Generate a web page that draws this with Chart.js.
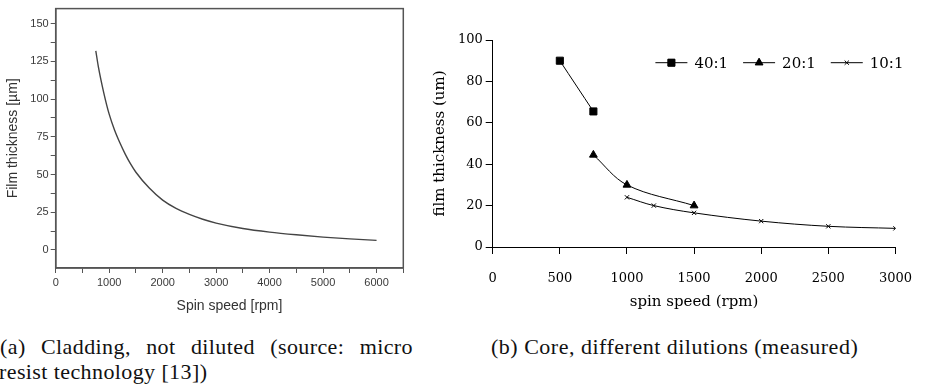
<!DOCTYPE html>
<html>
<head>
<meta charset="utf-8">
<script src="https://cdn.jsdelivr.net/npm/chart.js@4.4.1/dist/chart.umd.min.js"></script>
<style>
  body { margin: 0; background: #fff; width: 929px; height: 387px; overflow: hidden; position: relative; }
  .box { position: absolute; }
  .cap { position: absolute; font-family: "Liberation Serif", serif; font-size: 22px; letter-spacing: 0.4px; color: #111; white-space: nowrap; }
</style>
</head>
<body>
<div class="box" style="left:0;top:0;width:420px;height:320px"><canvas id="cladding"></canvas></div>
<div class="box" style="left:420px;top:20px;width:509px;height:295px"><canvas id="core"></canvas></div>
<div class="cap" style="left:0;top:334px;width:413px;white-space:normal;text-align:justify;text-align-last:justify">(a) Cladding, not diluted (source: micro</div>
<div class="cap" style="left:-1px;top:359px">resist technology [13])</div>
<div class="cap" style="left:491px;top:334px;letter-spacing:0.5px">(b) Core, different dilutions (measured)</div>
<script>
// (a) cladding
const cladSpeed = [750, 800, 900, 1000, 1100, 1200, 1300, 1400, 1500, 1750, 2000, 2250, 2500, 2750, 3000, 3500, 4000, 4500, 5000, 5500, 6000];
const cladThickness = [132, 121, 104, 90, 79.5, 71, 63.5, 57, 51.5, 41, 33, 27.5, 23.5, 20.3, 17.8, 14.2, 11.8, 10, 8.5, 7.3, 6.3];

// (b) core, measured points per dilution
const dilutions = ["40:1", "20:1", "10:1"];
const speed40 = [500, 750];
const thick40 = [90, 65.5];
const speed20 = [750, 1000, 1500];
const thick20 = [44.5, 30, 20];
const speed10 = [1000, 1200, 1500, 2000, 2500, 3000];
const thick10 = [24, 20, 16.5, 12.5, 10, 9];

function pts(xs, ys) {
  return xs.map((x, i) => ({ x: x, y: ys[i] }));
}

// frame around plot (left chart has a full box)
const frame = {
  id: "frame",
  afterDraw(chart) {
    const a = chart.chartArea;
    const ctx = chart.ctx;
    ctx.save();
    ctx.strokeStyle = "#555";
    ctx.lineWidth = 1.5;
    ctx.strokeRect(a.left, a.top, a.right - a.left, a.bottom - a.top);
    ctx.restore();
  },
};

const sans = { family: "'Liberation Sans', Arial, sans-serif", size: 11 };
new Chart(document.getElementById("cladding"), {
  type: "line",
  data: {
    datasets: [{
      data: pts(cladSpeed, cladThickness),
      borderColor: "#444",
      borderWidth: 1.4,
      pointRadius: 0,
      cubicInterpolationMode: "monotone",
    }],
  },
  options: {
    responsive: true,
    maintainAspectRatio: false,
    animation: false,
    layout: { padding: { top: 4, right: 16.7, left: 0, bottom: 0 } },
    plugins: { legend: { display: false }, tooltip: { enabled: false } },
    scales: {
      x: {
        type: "linear",
        min: 0,
        max: 6500,
        afterFit: (s) => { s.height = 52; },
        border: { color: "#555", width: 1.5 },
        grid: { drawOnChartArea: false, tickLength: 5, color: "#555" },
        ticks: {
          stepSize: 500,
          includeBounds: false,
          maxRotation: 0,
          autoSkip: false,
          padding: 3,
          color: "#3a3a3a",
          font: sans,
          callback: (v) => (v % 1000 === 0 && v <= 6000 ? String(v) : ""),
        },
        title: {
          display: true,
          text: "Spin speed [rpm]",
          color: "#333",
          font: { family: sans.family, size: 14 },
          padding: { top: 0, bottom: 5 },
        },
      },
      y: {
        min: -12,
        max: 160,
        afterFit: (s) => { s.width = 55.7; },
        border: { color: "#555", width: 1.5 },
        grid: { drawOnChartArea: false, tickLength: 5, color: "#555" },
        ticks: {
          stepSize: 12.5,
          includeBounds: false,
          autoSkip: false,
          padding: 2,
          color: "#3a3a3a",
          font: sans,
          callback: (v) => (v % 25 === 0 && v >= 0 && v <= 150 ? String(v) : ""),
        },
        title: {
          display: true,
          text: "Film thickness [µm]",
          color: "#333",
          font: { family: sans.family, size: 14 },
          padding: { top: 5, bottom: 0 },
        },
      },
    },
  },
  plugins: [frame],
});

const serif = "'DejaVu Serif', serif";
const markers = ["rect", "triangle", "crossRot"];
const radii = [5, 4.5, 3];
const coreSets = [pts(speed40, thick40), pts(speed20, thick20), pts(speed10, thick10)];

// legend inside the plot, top right: line with marker, then label
const lineLegend = {
  id: "lineLegend",
  afterDraw(chart) {
    const ctx = chart.ctx;
    const a = chart.chartArea;
    const iconW = 32, gapText = 7, gapItem = 15;
    ctx.save();
    ctx.font = "15px " + serif;
    const widths = chart.data.datasets.map((ds) => ctx.measureText(ds.label).width);
    let total = 0;
    widths.forEach((w, i) => { total += iconW + gapText + w + (i ? gapItem : 0); });
    let x = a.right + 8 - total;
    const y = a.top + 22.7;
    chart.data.datasets.forEach((ds, i) => {
      ctx.strokeStyle = "#000";
      ctx.fillStyle = "#000";
      ctx.lineWidth = 1;
      ctx.beginPath();
      ctx.moveTo(x, y);
      ctx.lineTo(x + iconW, y);
      ctx.stroke();
      Chart.helpers.drawPoint(ctx, { pointStyle: ds.pointStyle, radius: ds.pointRadius, borderWidth: 1 }, x + iconW / 2, y);
      if (ds.pointStyle !== "crossRot") ctx.fill();
      ctx.textBaseline = "middle";
      ctx.fillText(ds.label, x + iconW + gapText, y + 1);
      x += iconW + gapText + widths[i] + gapItem;
    });
    ctx.restore();
  },
};

new Chart(document.getElementById("core"), {
  type: "line",
  data: {
    datasets: dilutions.map((d, i) => ({
      label: d,
      data: coreSets[i],
      borderColor: "#000",
      backgroundColor: "#000",
      borderWidth: 1,
      pointStyle: markers[i],
      pointRadius: radii[i],
      pointBorderWidth: 1,
      tension: 0.35,
    })),
  },
  options: {
    responsive: true,
    maintainAspectRatio: false,
    animation: false,
    layout: { padding: { top: 20, right: 23.3, left: 0, bottom: 0 } },
    plugins: {
      tooltip: { enabled: false },
      legend: { display: false },
    },
    scales: {
      x: {
        type: "linear",
        min: 0,
        max: 3000,
        afterFit: (s) => { s.height = 68; },
        border: { color: "#000", width: 1 },
        grid: { drawOnChartArea: false, tickLength: 7, color: "#000" },
        ticks: {
          stepSize: 500,
          maxRotation: 0,
          padding: 17,
          color: "#000",
          font: { family: serif, size: 13 },
          callback: (v) => String(v),
        },
        title: {
          display: true,
          text: "spin speed (rpm)",
          color: "#000",
          font: { family: serif, size: 15 },
          padding: { top: 0, bottom: 4 },
        },
      },
      y: {
        min: 0,
        max: 100,
        afterFit: (s) => { s.width = 72.7; },
        border: { color: "#000", width: 1 },
        grid: { drawOnChartArea: false, tickLength: 7, color: "#000" },
        ticks: {
          stepSize: 20,
          padding: 3,
          color: "#000",
          font: { family: serif, size: 13 },
          callback: (v) => String(v),
        },
        title: {
          display: true,
          text: "film thickness (um)",
          color: "#000",
          font: { family: serif, size: 15 },
          padding: { top: 11, bottom: 0 },
        },
      },
    },
  },
  plugins: [lineLegend],
});
</script>
</body>
</html>
